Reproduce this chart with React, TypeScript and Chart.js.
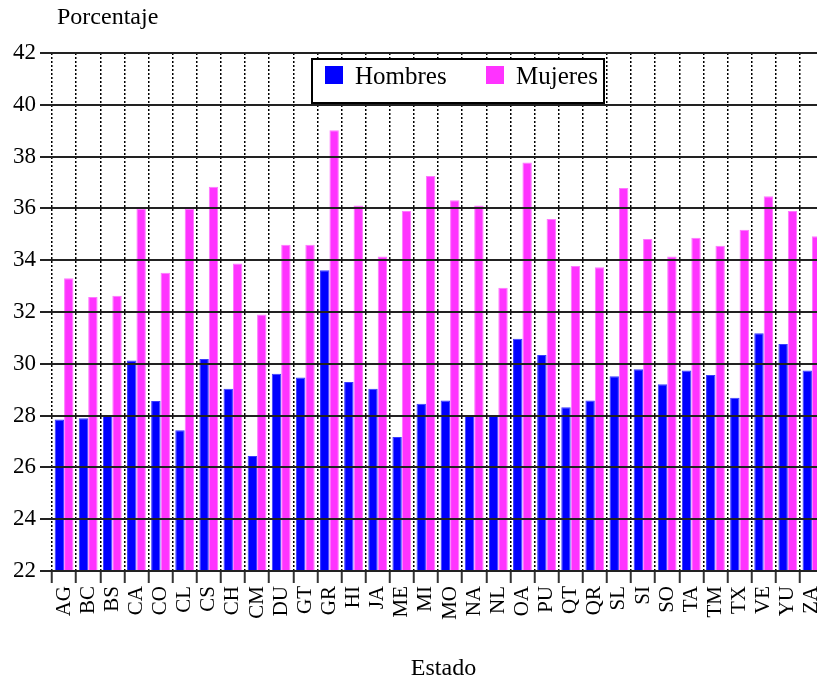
import React, { useEffect, useRef } from "react";
import { Chart, registerables } from "chart.js";

Chart.register(...registerables);

const categories = ["AG","BC","BS","CA","CO","CL","CS","CH","CM","DU","GT","GR","HI","JA","ME","MI","MO","NA","NL","OA","PU","QT","QR","SL","SI","SO","TA","TM","TX","VE","YU","ZA"];
const hombres = [27.85, 27.9, 28.0, 30.13, 28.56, 27.43, 30.19, 29.04, 26.44, 29.62, 29.47, 33.61, 29.3, 29.04, 27.17, 28.46, 28.58, 28.0, 28.0, 30.97, 30.34, 28.32, 28.58, 29.52, 29.79, 29.21, 29.74, 29.57, 28.69, 31.18, 30.76, 29.74];
const mujeres = [33.3, 32.58, 32.63, 35.98, 33.52, 35.98, 36.84, 33.87, 31.9, 34.6, 34.6, 39.02, 36.11, 34.14, 35.9, 37.25, 36.31, 36.11, 32.94, 37.77, 35.59, 33.78, 33.73, 36.79, 34.82, 34.14, 34.87, 34.56, 35.18, 36.47, 35.9, 34.92];
const seriesNames = ["Hombres", "Mujeres"];
const yTitle = "Porcentaje";
const xTitle = "Estado";

const FONT = "'Liberation Serif', 'Times New Roman', serif";

const decorPlugin = {
  id: "decor",
  afterDraw(chart: any) {
    const ctx = chart.ctx;
    ctx.save();
    // axis titles
    ctx.fillStyle = "#000";
    ctx.font = `24px ${FONT}`;
    ctx.textBaseline = "alphabetic";
    ctx.textAlign = "left";
    ctx.fillText(yTitle, 57, 23.5);
    ctx.textAlign = "center";
    ctx.fillText(xTitle, 443.5, 675);

    // legend box
    const bx = 312, by = 59, bw = 292, bh = 44;
    ctx.fillStyle = "#fff";
    ctx.fillRect(bx, by, bw, bh);
    ctx.strokeStyle = "#000";
    ctx.lineWidth = 2;
    ctx.strokeRect(bx, by, bw, bh);
    const items = chart.data.datasets;
    const xs = [325, 486];
    ctx.font = `25px ${FONT}`;
    ctx.textAlign = "left";
    ctx.textBaseline = "middle";
    items.forEach((ds: any, i: number) => {
      ctx.fillStyle = ds.backgroundColor;
      ctx.fillRect(xs[i], 66, 18, 18);
      ctx.fillStyle = "#000";
      ctx.fillText(ds.label, xs[i] + 30, 77);
    });
    ctx.restore();
  },
};

export default function App() {
  const ref = useRef<HTMLCanvasElement>(null);
  useEffect(() => {
    if (!ref.current) return;
    const chart = new Chart(ref.current, {
      type: "bar",
      data: {
        labels: categories,
        datasets: [
          { label: seriesNames[0], data: hombres, backgroundColor: "#0000ff", borderColor: "#3a3aff", borderWidth: 1 },
          { label: seriesNames[1], data: mujeres, backgroundColor: "#ff33ff", borderColor: "#ff77ff", borderWidth: 1 },
        ],
      },
      options: {
        animation: false,
        responsive: false,
        maintainAspectRatio: false,
        layout: { padding: { top: 53, left: 0, right: 0, bottom: 0 } },
        datasets: { bar: { categoryPercentage: 0.78, barPercentage: 1.0 } },
        plugins: { legend: { display: false }, title: { display: false }, tooltip: { enabled: false } },
        scales: {
          x: {
            offset: true,
            grid: {
              offset: true,
              color: "#000",
              lineWidth: 1.5,
              borderDash: [2, 2],
              drawTicks: true,
              tickLength: 12,
              tickColor: "#333",
              tickWidth: 2,
              tickBorderDash: [],
              z: 1,
            } as any,
            border: { display: false, dash: [2, 2] },
            ticks: {
              autoSkip: false,
              maxRotation: 90,
              minRotation: 90,
              padding: 3,
              color: "#000",
              font: { family: FONT, size: 21 },
            },
            afterFit(scale: any) {
              scale.height = 111;
              scale.paddingLeft = 0;
              scale.paddingRight = 0;
            },
          },
          y: {
            min: 22,
            max: 42,
            ticks: {
              stepSize: 2,
              padding: 4,
              color: "#000",
              font: { family: FONT, size: 23 },
            },
            grid: {
              color: "#222",
              lineWidth: 2,
              drawTicks: true,
              tickLength: 12,
              z: 1,
            },
            border: { display: false },
            afterFit(scale: any) {
              scale.width = 52;
            },
          },
        },
      },
      plugins: [decorPlugin],
    });
    return () => chart.destroy();
  }, []);
  return (
    <div style={{ position: "fixed", left: 0, top: 0, width: 817, height: 682, overflow: "hidden", background: "#fff" }}>
      <canvas ref={ref} width={824} height={682} style={{ display: "block", width: 824, height: 682 }} />
    </div>
  );
}
